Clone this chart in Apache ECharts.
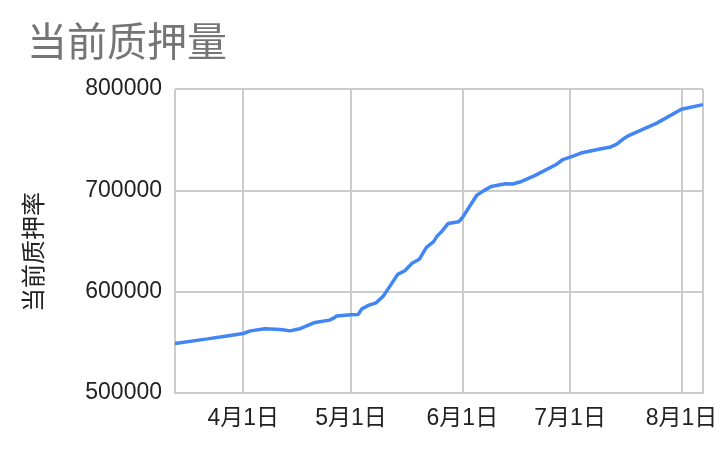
<!DOCTYPE html>
<html>
<head>
<meta charset="utf-8">
<script src="https://cdn.jsdelivr.net/npm/echarts@6/dist/echarts.min.js"></script>
<style>
html,body{margin:0;padding:0;background:#fff;}
#c{width:725px;height:452px;}
</style>
</head>
<body>
<div id="c"></div>
<script>
const dates = [
  '2021-03-13','2021-03-22','2021-03-27','2021-04-01','2021-04-03','2021-04-07','2021-04-10','2021-04-12',
  '2021-04-14','2021-04-17','2021-04-21','2021-04-25','2021-04-26','2021-04-27','2021-05-01','2021-05-03',
  '2021-05-04','2021-05-06','2021-05-08','2021-05-10','2021-05-14','2021-05-16','2021-05-18','2021-05-20',
  '2021-05-22','2021-05-24','2021-05-25','2021-05-26','2021-05-28','2021-05-31','2021-06-01','2021-06-05',
  '2021-06-07','2021-06-09','2021-06-13','2021-06-15','2021-06-17','2021-06-21','2021-06-27','2021-06-29',
  '2021-07-02','2021-07-04','2021-07-10','2021-07-12','2021-07-14','2021-07-16','2021-07-17','2021-07-25',
  '2021-08-01','2021-08-07'
];
const values = [
  548900,553400,556100,558700,561300,563300,563000,562400,
  561300,563700,569600,571900,573600,575900,577200,577500,
  583000,586700,589000,595600,617100,620700,628000,631900,
  643800,649400,655000,658300,667200,669000,673000,695200,
  699700,703800,706500,706200,708200,714300,725200,730400,
  734100,736800,741200,742500,745500,751200,753400,766100,
  780000,784600
];
const yTicks = [500000, 600000, 700000, 800000];
const titleText = '当前质押量';
const yName = '当前质押率';

const chart = echarts.init(document.getElementById('c'));
const font = '"Liberation Sans", Arial, "Noto Sans CJK SC", sans-serif';
chart.setOption({
  animation: false,
  title: {
    text: titleText,
    left: 22, top: 20,
    textStyle: {fontSize: 40, fontWeight: 'normal', color: '#757575', fontFamily: font}
  },
  grid: {left: 175, right: 22, top: 89, bottom: 59, containLabel: false},
  xAxis: {
    type: 'time',
    min: '2021-03-13',
    max: '2021-08-07',
    splitNumber: 5,
    axisLine: {show: true, lineStyle: {color: '#cccccc', width: 2}},
    axisTick: {show: false},
    splitLine: {show: true, lineStyle: {color: '#cccccc', width: 2}},
    axisLabel: {
      fontSize: 23, color: '#222', fontFamily: font, margin: 14,
      showMinLabel: false, showMaxLabel: false,
      formatter: function (v) { const d = new Date(v); return (d.getMonth() + 1) + '月' + d.getDate() + '日'; }
    }
  },
  yAxis: {
    type: 'value',
    min: yTicks[0], max: yTicks[yTicks.length - 1], interval: 100000,
    name: yName, nameLocation: 'middle', nameRotate: 90, nameGap: 128,
    nameTextStyle: {fontSize: 24, color: '#222', fontFamily: font, padding: [0, 22, 0, 0]},
    axisLine: {show: false}, axisTick: {show: false},
    splitLine: {lineStyle: {color: '#cccccc', width: 2}},
    axisLabel: {fontSize: 23, color: '#222', fontFamily: font, margin: 13,
      formatter: function (v) { return String(v); }}
  },
  series: [{
    type: 'line',
    data: dates.map((d, i) => [d, values[i]]),
    showSymbol: false,
    lineStyle: {color: '#4285F4', width: 3.5},
    itemStyle: {color: '#4285F4'}
  }]
});
</script>
</body>
</html>
